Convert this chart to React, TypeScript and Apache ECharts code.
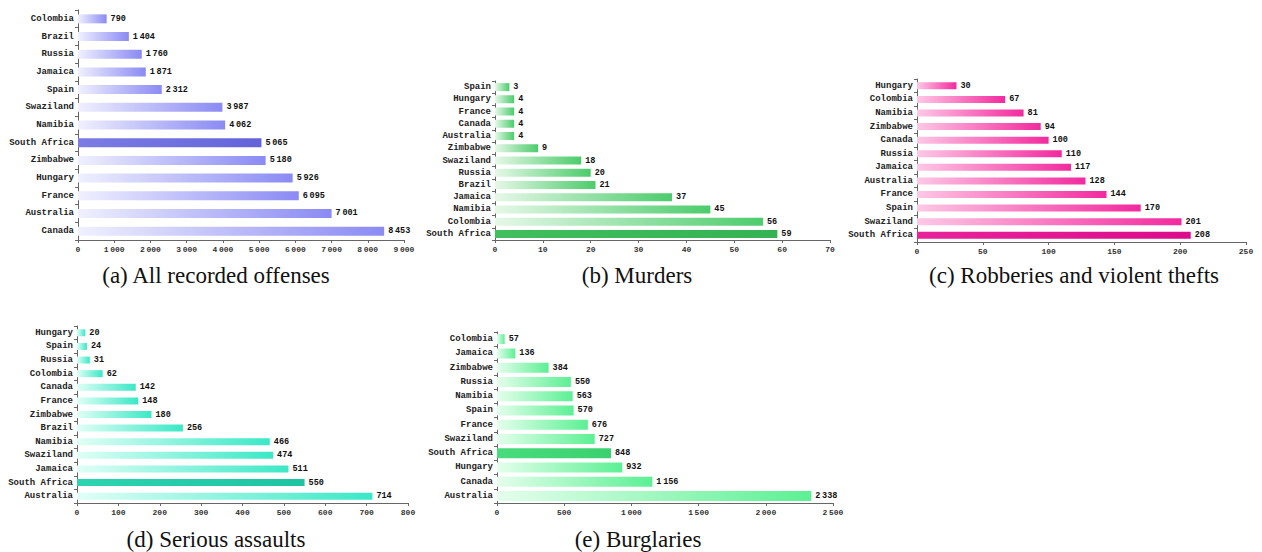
import React, { useEffect, useRef } from "react";
import * as echarts from "echarts";

// Offences per 100 000 inhabitants, by country
const offensesCountries = ["Colombia", "Brazil", "Russia", "Jamaica", "Spain", "Swaziland", "Namibia", "South Africa", "Zimbabwe", "Hungary", "France", "Australia", "Canada"];
const offensesValues = [790, 1404, 1760, 1871, 2312, 3987, 4062, 5065, 5180, 5926, 6095, 7001, 8453];

const murdersCountries = ["Spain", "Hungary", "France", "Canada", "Australia", "Zimbabwe", "Swaziland", "Russia", "Brazil", "Jamaica", "Namibia", "Colombia", "South Africa"];
const murdersValues = [3, 4, 4, 4, 4, 9, 18, 20, 21, 37, 45, 56, 59];

const robberiesCountries = ["Hungary", "Colombia", "Namibia", "Zimbabwe", "Canada", "Russia", "Jamaica", "Australia", "France", "Spain", "Swaziland", "South Africa"];
const robberiesValues = [30, 67, 81, 94, 100, 110, 117, 128, 144, 170, 201, 208];

const assaultsCountries = ["Hungary", "Spain", "Russia", "Colombia", "Canada", "France", "Zimbabwe", "Brazil", "Namibia", "Swaziland", "Jamaica", "South Africa", "Australia"];
const assaultsValues = [20, 24, 31, 62, 142, 148, 180, 256, 466, 474, 511, 550, 714];

const burglariesCountries = ["Colombia", "Jamaica", "Zimbabwe", "Russia", "Namibia", "Spain", "France", "Swaziland", "South Africa", "Hungary", "Canada", "Australia"];
const burglariesValues = [57, 136, 384, 550, 563, 570, 676, 727, 848, 932, 1156, 2338];

const captions = [
  "(a) All recorded offenses",
  "(b) Murders",
  "(c) Robberies and violent thefts",
  "(d) Serious assaults",
  "(e) Burglaries",
];

const HIGHLIGHT = "South Africa";
const MONO = "'Liberation Mono', 'DejaVu Sans Mono', monospace";

// Thousands grouped with a thin space
function fmt(n: number): string {
  const s = String(Math.round(n));
  return s.length > 3 ? s.slice(0, -3) + "\u2009" + s.slice(-3) : s;
}

type Panel = {
  countries: string[];
  values: number[];
  max: number;
  interval: number;
  grid: { left: number; top: number; width: number; height: number };
  barWidth: number;
  pale: string;
  strong: string;
  hiPale: string;
  hiStrong: string;
  caption: { x: number; y: number };
};

const panels: Panel[] = [
  {
    countries: offensesCountries, values: offensesValues, max: 9000, interval: 1000,
    grid: { left: 78, top: 10, width: 326, height: 230 }, barWidth: 9,
    pale: "#f0f0ff", strong: "#8a8af4", hiPale: "#7c7ce4", hiStrong: "#6464da",
    caption: { x: 216, y: 275 },
  },
  {
    countries: murdersCountries, values: murdersValues, max: 70, interval: 10,
    grid: { left: 495, top: 81, width: 335, height: 159 }, barWidth: 8,
    pale: "#e6f8e8", strong: "#4ccc6c", hiPale: "#40be60", hiStrong: "#34b254",
    caption: { x: 637, y: 275 },
  },
  {
    countries: robberiesCountries, values: robberiesValues, max: 250, interval: 50,
    grid: { left: 917, top: 79, width: 329, height: 163 }, barWidth: 7,
    pale: "#ffc8e6", strong: "#f22a9e", hiPale: "#e8239a", hiStrong: "#dc0c8a",
    caption: { x: 1074, y: 275 },
  },
  {
    countries: assaultsCountries, values: assaultsValues, max: 800, interval: 100,
    grid: { left: 77, top: 326, width: 331, height: 177 }, barWidth: 7,
    pale: "#e0fff6", strong: "#3ae8c6", hiPale: "#2cd4b0", hiStrong: "#1cc4a2",
    caption: { x: 216, y: 539 },
  },
  {
    countries: burglariesCountries, values: burglariesValues, max: 2500, interval: 500,
    grid: { left: 497, top: 332, width: 336, height: 171 }, barWidth: 10,
    pale: "#e4ffec", strong: "#5cf094", hiPale: "#48dc7c", hiStrong: "#3cd070",
    caption: { x: 638, y: 539 },
  },
];

function gradient(from: string, to: string) {
  return new echarts.graphic.LinearGradient(0, 0, 1, 0, [
    { offset: 0, color: from },
    { offset: 1, color: to },
  ]);
}

export default function App() {
  const ref = useRef<HTMLDivElement>(null);

  useEffect(() => {
    document.body.style.margin = "0";
    if (!ref.current) return;
    const chart = echarts.init(ref.current, undefined, { renderer: "svg" });

    const grid = panels.map((p) => ({ ...p.grid, containLabel: false }));

    const xAxis = panels.map((p, i) => ({
      type: "value" as const,
      gridIndex: i,
      min: 0,
      max: p.max,
      interval: p.interval,
      splitLine: { show: false },
      axisLine: { show: true, lineStyle: { color: "#666", width: 1 } },
      axisTick: { show: true, length: 3, lineStyle: { color: "#666" } },
      axisLabel: {
        fontFamily: MONO,
        fontSize: 8,
        fontWeight: "bold" as const,
        color: "#333",
        margin: 5,
        formatter: (v: number) => fmt(v),
      },
    }));

    const yAxis = panels.map((p, i) => ({
      type: "category" as const,
      gridIndex: i,
      data: p.countries,
      inverse: true,
      axisLine: { show: true, lineStyle: { color: "#666", width: 1 } },
      axisTick: { show: true, length: 3, lineStyle: { color: "#666" } },
      axisLabel: {
        fontFamily: MONO,
        fontSize: 9,
        fontWeight: "bold" as const,
        color: "#222",
        margin: 4,
      },
    }));

    const series = panels.map((p, i) => ({
      type: "bar" as const,
      xAxisIndex: i,
      yAxisIndex: i,
      barWidth: p.barWidth,
      data: p.values.map((v, k) => ({
        value: v,
        itemStyle: {
          color:
            p.countries[k] === HIGHLIGHT
              ? gradient(p.hiPale, p.hiStrong)
              : gradient(p.pale, p.strong),
        },
      })),
      label: {
        show: true,
        position: "right" as const,
        distance: 4,
        fontFamily: MONO,
        fontSize: 8.5,
        fontWeight: "bold" as const,
        color: "#111",
        formatter: (d: any) => fmt(d.value),
      },
    }));

    const graphic = panels.map((p, i) => ({
      type: "text" as const,
      x: p.caption.x,
      y: p.caption.y,
      style: {
        text: captions[i],
        fontFamily: "'Liberation Serif', 'DejaVu Serif', serif",
        fontSize: 23,
        fill: "#111",
        textAlign: "center" as const,
        textVerticalAlign: "middle" as const,
      },
    }));

    chart.setOption({
      animation: false,
      backgroundColor: "#ffffff",
      grid,
      xAxis,
      yAxis,
      series,
      graphic,
    });

    return () => chart.dispose();
  }, []);

  return <div ref={ref} style={{ width: 1262, height: 552 }} />;
}
